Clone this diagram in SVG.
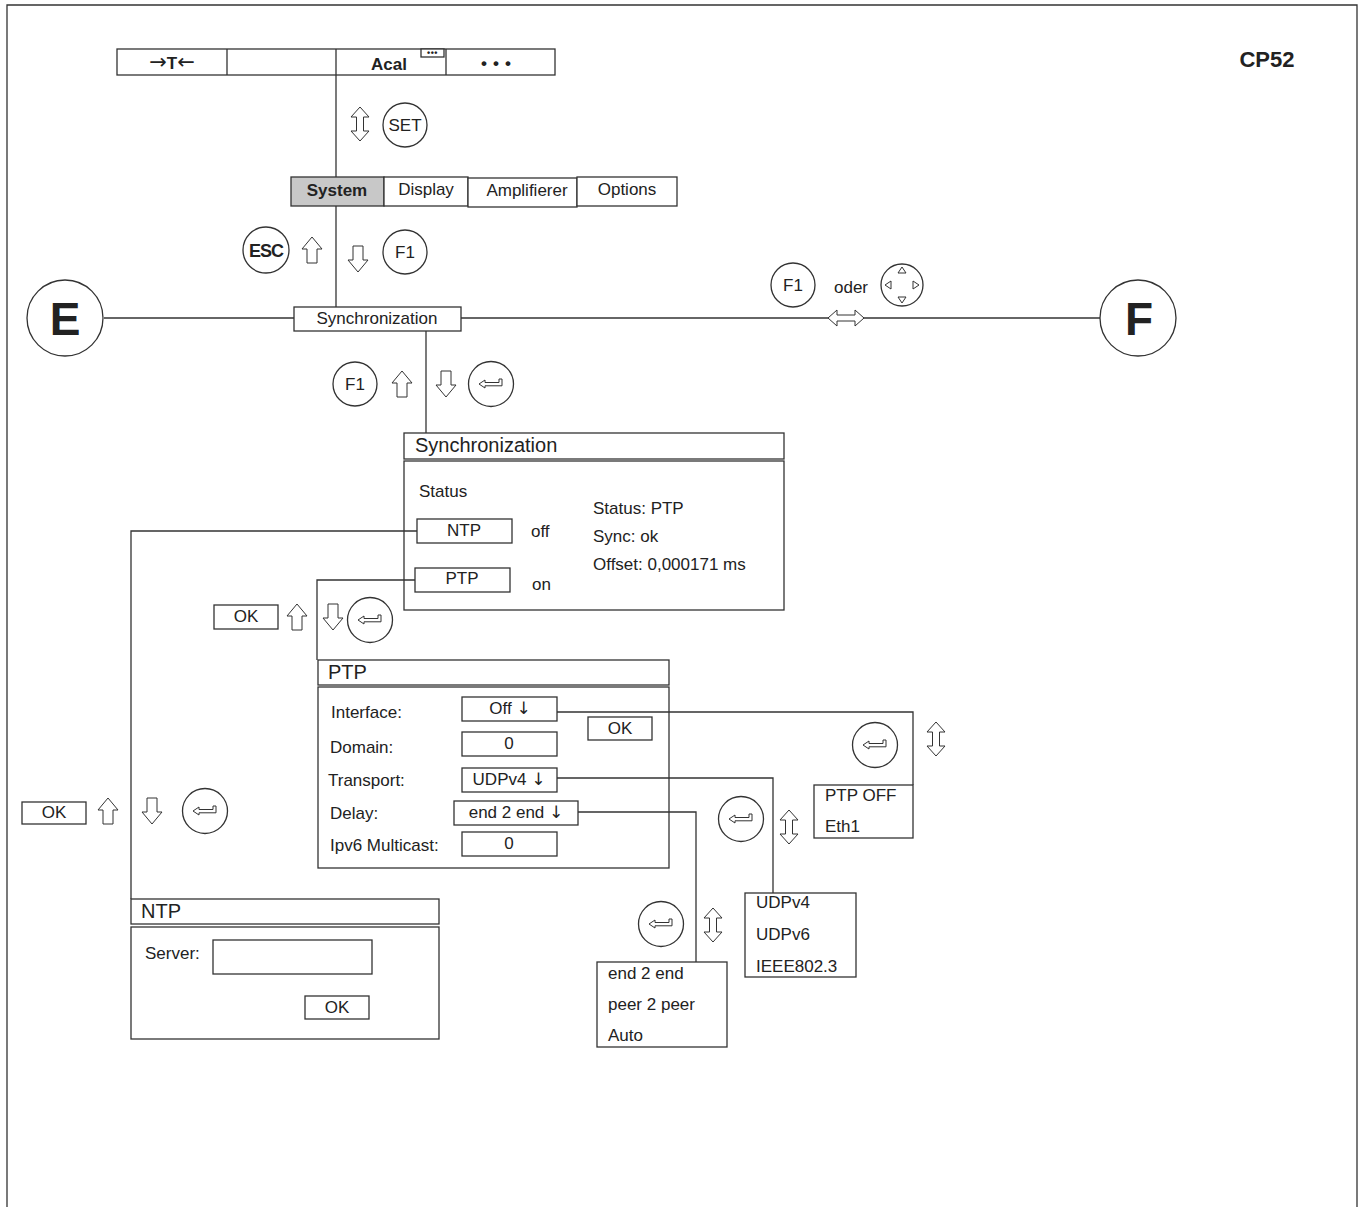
<svg xmlns="http://www.w3.org/2000/svg" width="1365" height="1207" viewBox="0 0 1365 1207">
<style>
.t{font-family:"Liberation Sans",Arial,sans-serif;font-size:17px;fill:#222}
.b{font-weight:bold}
.m{text-anchor:middle}
.h{font-size:20px}
.big{font-size:46px;font-weight:bold}
.ds{font-family:"DejaVu Sans",sans-serif}
.ln{fill:none;stroke:#333;stroke-width:1.3}
.bx{fill:#fff;stroke:#333;stroke-width:1.3}
.ar{fill:#fff;stroke:#333;stroke-width:1}
</style>
<defs>
<path id="up" class="ar" d="M0,-13 L10,-1 L5,-1 L5,13 L-5,13 L-5,-1 L-10,-1 Z"/>
<path id="down" class="ar" d="M0,13 L10,1 L5,1 L5,-13 L-5,-13 L-5,1 L-10,1 Z"/>
<path id="vdbl" class="ar" d="M0,-17 L9,-7 L3.5,-7 L3.5,7 L9,7 L0,17 L-9,7 L-3.5,7 L-3.5,-7 L-9,-7 Z"/>
<path id="hdbl" class="ar" d="M-18,0 L-9,-8 L-9,-3 L9,-3 L9,-8 L18,0 L9,8 L9,3 L-9,3 L-9,8 Z"/>
<g id="enter">
<circle r="22.5" class="bx"/>
<path class="ar" d="M-12,0 L-6,-4 L-6,-1.5 L8,-1.5 L8,-5 L11,-5 L11,1.8 L-6,1.8 L-6,4 Z"/>
</g>
</defs>
<rect width="1365" height="1207" fill="#fff"/>
<path class="ln" d="M7,1207 V5 H1357 V1207" stroke-width="1.6"/>
<text class="t b m" x="1267" y="67" style="font-size:22px">CP52</text>

<g id="toolbar">
<rect class="bx" x="117" y="49" width="438" height="26"/>
<path class="ln" d="M227,49 V75 M336,49 V75 M446,49 V75"/>
<rect class="bx" x="421" y="49" width="23" height="8"/>
<text class="t b m" x="432.5" y="56" style="font-size:9px" letter-spacing="0.5">•••</text>
<text class="t b m" x="172" y="69"><tspan class="ds" style="font-weight:normal;font-size:21px">→</tspan>T<tspan class="ds" style="font-weight:normal;font-size:21px">←</tspan></text>
<text class="t b m" x="389" y="70">Acal</text>
<text class="t b m" x="499" y="69" letter-spacing="6">•••</text>
</g>

<g id="set-key">
<circle class="bx" cx="405" cy="125" r="22"/>
<text class="t m" x="405" y="131">SET</text>
</g>

<g id="menu">
<rect x="291" y="177" width="93" height="29" fill="#c8c8c8" stroke="#333" stroke-width="1.3"/>
<rect class="bx" x="384" y="177" width="84" height="29"/>
<rect class="bx" x="468" y="178" width="109" height="29"/>
<rect class="bx" x="577" y="177" width="100" height="29"/>
<text class="t b m" x="337" y="196">System</text>
<text class="t m" x="426" y="195">Display</text>
<text class="t m" x="527" y="196">Amplifierer</text>
<text class="t m" x="627" y="195">Options</text>
</g>

<g id="esc-key">
<circle class="bx" cx="266" cy="250" r="23"/>
<text class="t b m" x="266" y="257" style="font-size:18px" letter-spacing="-1">ESC</text>
</g>
<g id="f1-key-a">
<circle class="bx" cx="405" cy="252" r="22"/>
<text class="t m" x="405" y="258">F1</text>
</g>

<g id="node-E">
<circle class="bx" cx="65" cy="318" r="38"/>
<text class="t big m" x="65" y="335">E</text>
</g>
<g id="node-F">
<circle class="bx" cx="1138" cy="318" r="38"/>
<text class="t big m" x="1139" y="335">F</text>
</g>

<g id="sync-item">
<rect class="bx" x="294" y="307" width="167" height="24"/>
<text class="t m" x="377" y="324">Synchronization</text>
</g>

<g id="f1-oder">
<circle class="bx" cx="793" cy="285" r="22"/>
<text class="t m" x="793" y="291">F1</text>
<text class="t m" x="851" y="293">oder</text>
<circle class="bx" cx="902" cy="285" r="21"/>
<path class="ar" d="M902,267 L906,273 L898,273 Z M902,303 L906,297 L898,297 Z M885,285 L891,281 L891,289 Z M919,285 L913,281 L913,289 Z"/>
</g>

<g id="f1-key-b">
<circle class="bx" cx="355" cy="384" r="22"/>
<text class="t m" x="355" y="390">F1</text>
</g>
<use id="enter-a" href="#enter" x="491" y="384"/>

<g id="sync-dialog">
<rect class="bx" x="404" y="433" width="380" height="26"/>
<rect class="bx" x="404" y="461" width="380" height="149"/>
<text class="t h" x="415" y="452">Synchronization</text>
<text class="t" x="419" y="497">Status</text>
<rect class="bx" x="417" y="519" width="95" height="24"/>
<text class="t m" x="464" y="536">NTP</text>
<text class="t" x="531" y="537">off</text>
<rect class="bx" x="415" y="568" width="95" height="24"/>
<text class="t m" x="462" y="584">PTP</text>
<text class="t" x="532" y="590">on</text>
<text class="t" x="593" y="514">Status: PTP</text>
<text class="t" x="593" y="542">Sync: ok</text>
<text class="t" x="593" y="570">Offset: 0,000171 ms</text>
</g>

<g id="ok-ptp">
<rect class="bx" x="214" y="605" width="64" height="24"/>
<text class="t m" x="246" y="622">OK</text>
</g>
<use id="enter-b" href="#enter" x="370" y="620"/>

<g id="ptp-dialog">
<rect class="bx" x="318" y="660" width="351" height="25"/>
<rect class="bx" x="318" y="687" width="351" height="181"/>
<text class="t h" x="328" y="679">PTP</text>
<text class="t" x="331" y="718">Interface:</text>
<rect class="bx" x="462" y="697" width="95" height="24"/>
<text class="t m" x="510" y="714">Off <tspan class="ds">↓</tspan></text>
<rect class="bx" x="588" y="717" width="64" height="23"/>
<text class="t m" x="620" y="734">OK</text>
<text class="t" x="330" y="753">Domain:</text>
<rect class="bx" x="462" y="732" width="95" height="24"/>
<text class="t m" x="509" y="749">0</text>
<text class="t" x="328" y="786">Transport:</text>
<rect class="bx" x="462" y="768" width="95" height="24"/>
<text class="t m" x="509" y="785">UDPv4 <tspan class="ds">↓</tspan></text>
<text class="t" x="330" y="819">Delay:</text>
<rect class="bx" x="454" y="801" width="124" height="24"/>
<text class="t m" x="516" y="818">end 2 end <tspan class="ds">↓</tspan></text>
<text class="t" x="330" y="851">Ipv6 Multicast:</text>
<rect class="bx" x="462" y="832" width="95" height="24"/>
<text class="t m" x="509" y="849">0</text>
</g>

<g id="list-interface">
<rect class="bx" x="814" y="785" width="99" height="53"/>
<text class="t" x="825" y="801">PTP OFF</text>
<text class="t" x="825" y="832">Eth1</text>
</g>

<g id="list-transport">
<rect class="bx" x="745" y="893" width="111" height="84"/>
<text class="t" x="756" y="908">UDPv4</text>
<text class="t" x="756" y="940">UDPv6</text>
<text class="t" x="756" y="972">IEEE802.3</text>
</g>

<g id="list-delay">
<rect class="bx" x="597" y="962" width="130" height="85"/>
<text class="t" x="608" y="979">end 2 end</text>
<text class="t" x="608" y="1010">peer 2 peer</text>
<text class="t" x="608" y="1041">Auto</text>
</g>

<g id="ok-ntp">
<rect class="bx" x="22" y="802" width="64" height="22"/>
<text class="t m" x="54" y="818">OK</text>
</g>

<g id="ntp-dialog">
<rect class="bx" x="131" y="899" width="308" height="25"/>
<rect class="bx" x="131" y="927" width="308" height="112"/>
<text class="t h" x="141" y="918">NTP</text>
<text class="t" x="145" y="959">Server:</text>
<rect class="bx" x="213" y="940" width="159" height="34"/>
<rect class="bx" x="305" y="996" width="64" height="23"/>
<text class="t m" x="337" y="1013">OK</text>
</g>

<g id="connectors">
<path class="ln" d="M336,75 V177"/>
<path class="ln" d="M336,206 V307"/>
<path class="ln" d="M104,318 H294"/>
<path class="ln" d="M461,318 H1100"/>
<path class="ln" d="M426,331 V433"/>
<path class="ln" d="M417,531 H131 V899"/>
<path class="ln" d="M415,580 H317 V660"/>
<path class="ln" d="M557,712 H913 V785"/>
<path class="ln" d="M557,778 H773 V893"/>
<path class="ln" d="M578,812 H696 V962"/>
<use href="#vdbl" x="360" y="124"/>
<use href="#up" x="312" y="250"/>
<use href="#down" x="358" y="259"/>
<use href="#hdbl" x="846" y="318"/>
<use href="#up" x="402" y="384"/>
<use href="#down" x="446" y="384"/>
<use href="#up" x="297" y="617"/>
<use href="#down" x="333" y="617"/>
<use href="#up" x="108" y="811"/>
<use href="#down" x="152" y="811"/>
<use href="#vdbl" x="936" y="739"/>
<use href="#vdbl" x="789" y="827"/>
<use href="#vdbl" x="713" y="925"/>
<use id="enter-c" href="#enter" x="875" y="745"/>
<use id="enter-d" href="#enter" x="741" y="819"/>
<use id="enter-e" href="#enter" x="661" y="924"/>
<use id="enter-f" href="#enter" x="205" y="811"/>
</g>
</svg>
